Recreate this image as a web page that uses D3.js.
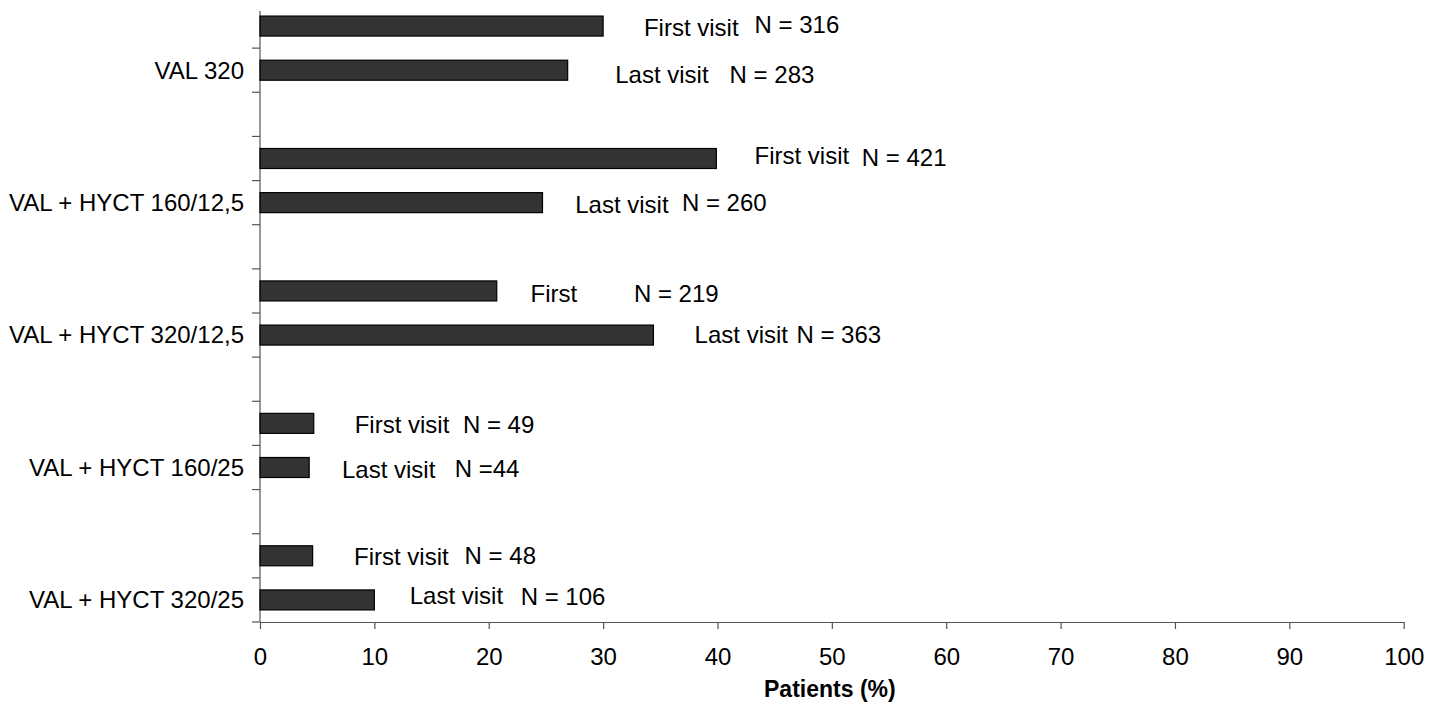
<!DOCTYPE html>
<html>
<head>
<meta charset="utf-8">
<script src="https://cdn.jsdelivr.net/npm/d3@7"></script>
<style>
  html, body { margin: 0; padding: 0; background: #fff; }
  svg { display: block; font-family: "Liberation Sans", Arial, sans-serif; }
</style>
</head>
<body>
<svg id="chart" width="1444" height="711"></svg>
<script>
// ---- data ----
const groups = ["VAL 320", "VAL + HYCT 160/12,5", "VAL + HYCT 320/12,5", "VAL + HYCT 160/25", "VAL + HYCT 320/25"];
const firstVisit = [30.0, 39.9, 20.7, 4.7, 4.6];
const lastVisit  = [26.9, 24.7, 34.4, 4.3, 10.0];
const firstN = ["N = 316", "N = 421", "N = 219", "N = 49", "N = 48"];
const lastN  = ["N = 283", "N = 260", "N = 363", "N =44", "N = 106"];
const firstText = ["First visit", "First visit", "First", "First visit", "First visit"];
const lastText  = ["Last visit", "Last visit", "Last visit", "Last visit", "Last visit"];
const xTicks = [0, 10, 20, 30, 40, 50, 60, 70, 80, 90, 100];
const xTitle = "Patients (%)";

// annotation placement (x in % units, y offset in px from bar centre)
const firstTextX = [33.57, 43.24, 23.66, 8.28, 8.22];
const firstNX    = [43.24, 52.62, 32.69, 17.74, 17.89];
const lastTextX  = [31.06, 27.56, 38.0, 7.17, 13.09];
const lastNX     = [41.06, 36.89, 46.9, 17.02, 22.79];
const firstTextDy = [9.6, 5.8, 10.8, 9.9, 9.2];
const firstNDy    = [7.2, 7.5, 10.8, 9.3, 8.2];
const lastTextDy  = [13.1, 10.1, 7.6, 10.8, 4.4];
const lastNDy     = [13.1, 8.1, 7.6, 9.2, 5.1];

(function () {
  // ---- build category slots (top to bottom): First, Last, gap ...
  const slots = [];
  groups.forEach((g, i) => {
    slots.push({ key: g + "|first", group: i, kind: "first" });
    slots.push({ key: g + "|last", group: i, kind: "last" });
    if (i < groups.length - 1) slots.push({ key: g + "|gap", group: i, kind: "gap" });
  });

  const svg = d3.select("#chart");
  const mLeft = 260, mRight = 1403.7, mTop = 4, mBottom = 622;
  const x = d3.scaleLinear().domain([0, 100]).range([mLeft, mRight]);
  const y = d3.scaleBand().domain(slots.map(d => d.key)).range([mTop, mBottom]).paddingInner(0).paddingOuter(0);
  const barH = 20;
  const fontSize = 24;

  // y axis line + ticks
  const axisColor = "#555";
  svg.append("line")
    .attr("x1", mLeft).attr("x2", mLeft)
    .attr("y1", 11).attr("y2", mBottom)
    .attr("stroke", axisColor).attr("stroke-width", 1.2);
  slots.forEach((s) => {
    const yb = y(s.key) + y.bandwidth();
    svg.append("line")
      .attr("x1", mLeft - 8).attr("x2", mLeft)
      .attr("y1", yb).attr("y2", yb)
      .attr("stroke", axisColor).attr("stroke-width", 1.2);
  });

  // x axis
  const xAxis = d3.axisBottom(x).tickValues(xTicks).tickSize(7).tickSizeOuter(0).tickPadding(19);
  const gx = svg.append("g").attr("transform", `translate(0,${mBottom})`).call(xAxis);
  gx.select(".domain").attr("stroke", axisColor).attr("stroke-width", 1.2);
  gx.selectAll(".tick line").attr("stroke", axisColor).attr("stroke-width", 1.2);
  gx.selectAll(".tick text")
    .attr("fill", "#000")
    .style("font-size", fontSize + "px")
    .style("font-family", '"Liberation Sans", Arial, sans-serif');

  // x title
  svg.append("text")
    .attr("x", (mLeft + mRight) / 2 - 2)
    .attr("y", 697)
    .attr("text-anchor", "middle")
    .style("font-size", "23px")
    .style("font-weight", "bold")
    .text(xTitle);

  // bars
  const barData = [];
  groups.forEach((g, i) => {
    barData.push({ key: g + "|first", v: firstVisit[i] });
    barData.push({ key: g + "|last", v: lastVisit[i] });
  });
  svg.append("g").selectAll("rect").data(barData).join("rect")
    .attr("x", x(0))
    .attr("y", d => y(d.key) + y.bandwidth() / 2 - barH / 2)
    .attr("width", d => x(d.v) - x(0))
    .attr("height", barH)
    .attr("fill", "#333333")
    .attr("stroke", "#000")
    .attr("stroke-width", 1.2);

  // category labels (aligned with Last visit bar)
  svg.append("g").selectAll("text").data(groups).join("text")
    .attr("x", 244)
    .attr("y", g => y(g + "|last") + y.bandwidth() / 2)
    .attr("dy", "0.35em")
    .attr("text-anchor", "end")
    .style("font-size", fontSize + "px")
    .text(g => g);

  // annotations
  const ann = [];
  groups.forEach((g, i) => {
    const cf = y(g + "|first") + y.bandwidth() / 2;
    const cl = y(g + "|last") + y.bandwidth() / 2;
    ann.push({ t: firstText[i], x: firstTextX[i], y: cf + firstTextDy[i] });
    ann.push({ t: firstN[i], x: firstNX[i], y: cf + firstNDy[i] });
    ann.push({ t: lastText[i], x: lastTextX[i], y: cl + lastTextDy[i] });
    ann.push({ t: lastN[i], x: lastNX[i], y: cl + lastNDy[i] });
  });
  svg.append("g").selectAll("text").data(ann).join("text")
    .attr("x", d => x(d.x))
    .attr("y", d => d.y)
    .style("font-size", fontSize + "px")
    .text(d => d.t);
})();
</script>
</body>
</html>
